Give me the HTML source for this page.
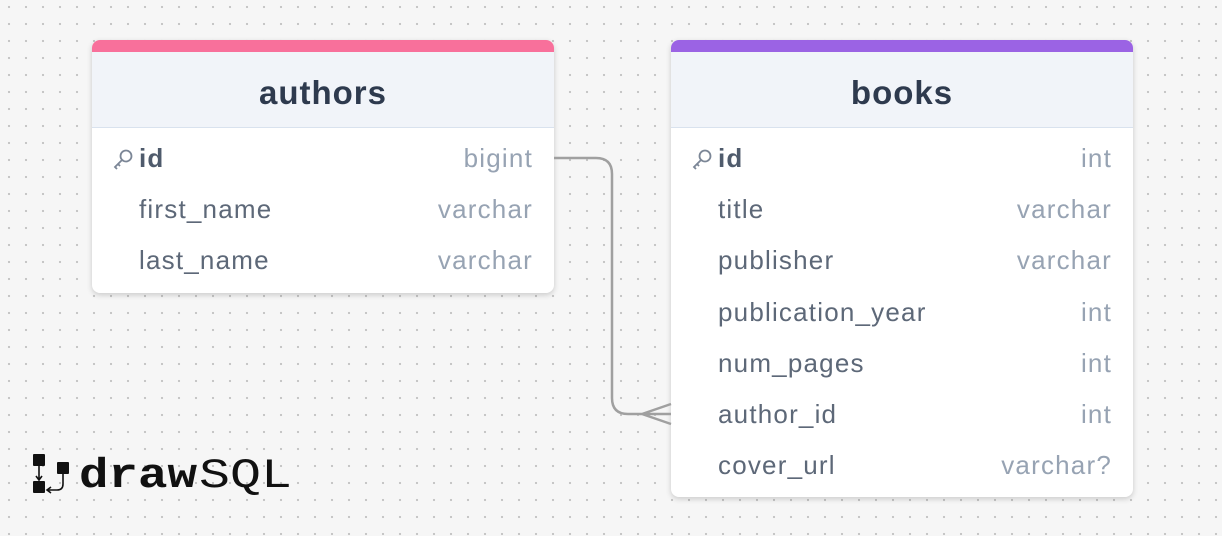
<!DOCTYPE html>
<html><head><meta charset="utf-8"><style>
body{margin:0;width:1222px;height:536px;overflow:hidden;background:#f6f6f6;
background-image:radial-gradient(circle,#c4c4c4 1px,transparent 1.3px);background-size:17px 17px;background-position:0.5px -1.5px;
font-family:"Liberation Sans",sans-serif;position:relative}
.card{position:absolute;background:#fff;border-radius:8px;box-shadow:0 2px 6px rgba(0,0,0,.18);overflow:hidden}
.strip{height:12px}
.hd{height:75px;background:#f1f4f9;border-bottom:1px solid #d9e2ee;text-align:center;line-height:82px;font-weight:bold;font-size:33px;letter-spacing:1px;color:#2e3a4e}
.row{position:relative;height:51.2px;line-height:30px;font-size:26px;letter-spacing:1.2px;color:#5d6878}
.row .n{position:absolute;left:47px;top:15px}
.row .t{position:absolute;right:21px;top:15px;color:#97a3b3}
.row .n.b{font-weight:bold;color:#4f5b6c}
.key{position:absolute;left:20px;top:20px}
</style></head><body>
<div class="card" style="left:92px;top:40px;width:462px;height:253px">
<div class="strip" style="background:#f8709b"></div>
<div class="hd">authors</div>
<div class="row"><svg class="key" width="22" height="22" viewBox="0 0 22 22"><circle cx="14" cy="8" r="5.5" fill="none" stroke="#7b8696" stroke-width="1.8"/><path d="M10 12 L3 19 L5 21 M6 16 L8 18" fill="none" stroke="#7b8696" stroke-width="1.8"/></svg><span class="n b">id</span><span class="t">bigint</span></div>
<div class="row"><span class="n">first_name</span><span class="t">varchar</span></div>
<div class="row"><span class="n">last_name</span><span class="t">varchar</span></div>
</div>
<div class="card" style="left:671px;top:40px;width:462px;height:457px">
<div class="strip" style="background:#9b63e4"></div>
<div class="hd">books</div>
<div class="row"><svg class="key" width="22" height="22" viewBox="0 0 22 22"><circle cx="14" cy="8" r="5.5" fill="none" stroke="#7b8696" stroke-width="1.8"/><path d="M10 12 L3 19 L5 21 M6 16 L8 18" fill="none" stroke="#7b8696" stroke-width="1.8"/></svg><span class="n b">id</span><span class="t">int</span></div>
<div class="row"><span class="n">title</span><span class="t">varchar</span></div>
<div class="row"><span class="n">publisher</span><span class="t">varchar</span></div>
<div class="row"><span class="n">publication_year</span><span class="t">int</span></div>
<div class="row"><span class="n">num_pages</span><span class="t">int</span></div>
<div class="row"><span class="n">author_id</span><span class="t">int</span></div>
<div class="row"><span class="n">cover_url</span><span class="t">varchar?</span></div>
</div>
<svg style="position:absolute;left:0;top:0" width="1222" height="536">
<path d="M554 158 H596 Q612 158 612 174 V398 Q612 414 628 414 H671 M642 414 L671 404 M642 414 L671 424" fill="none" stroke="#a0a0a0" stroke-width="2.5"/>
<g fill="#111">
<rect x="33" y="454" width="12" height="12" rx="1"/>
<rect x="33" y="481" width="12" height="12" rx="1"/>
<rect x="57" y="462" width="12" height="12" rx="1"/>
</g>
<path d="M39 466 V479 M36 476 L39 480 L42 476 M63 474 V484 Q63 490 57 490 H48 M51 487 L47 490 L51 493" fill="none" stroke="#111" stroke-width="1.6"/>
<text x="79" y="487" font-family="Liberation Mono,monospace" font-weight="bold" font-size="42" fill="#111" textLength="118" lengthAdjust="spacingAndGlyphs">draw</text>
<text x="199" y="487" font-family="Liberation Mono,monospace" font-size="42" fill="#111" textLength="93" lengthAdjust="spacingAndGlyphs">SQL</text>
</svg>
</body></html>
